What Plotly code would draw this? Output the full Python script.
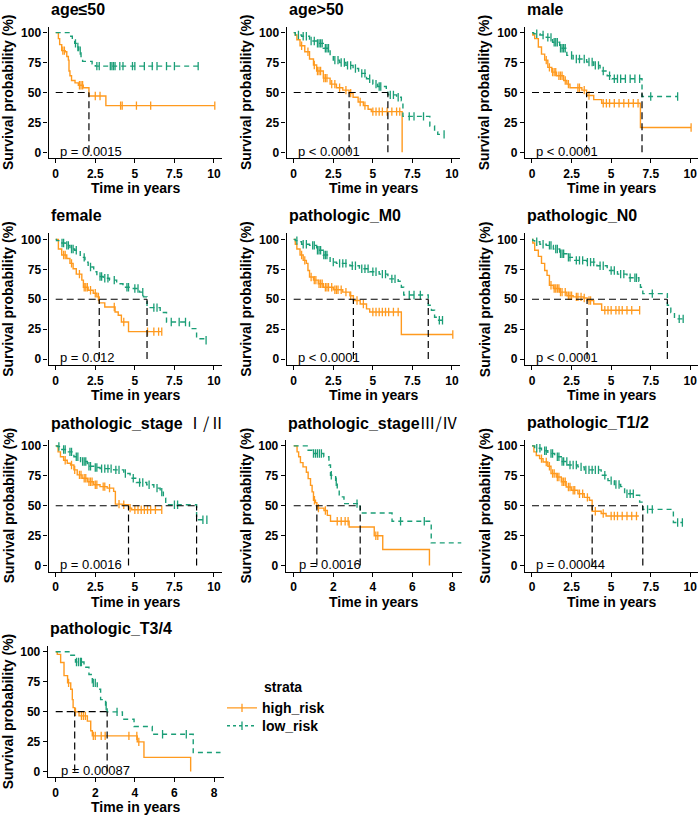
import plotly.graph_objects as go

FONT = "Liberation Sans, Arial, sans-serif"
HIGH_COLOR = "#FF9A1F"
LOW_COLOR = "#1B9E77"

panel_titles = ["age≤50", "age>50", "male", "female", "pathologic_M0", "pathologic_N0",
                "pathologic_stage <span style='font-family:Noto Sans CJK SC;font-weight:normal'>Ⅰ/Ⅱ</span>",
                "pathologic_stage<span style='font-family:Noto Sans CJK SC;font-weight:normal'>Ⅲ/Ⅳ</span>",
                "pathologic_T1/2", "pathologic_T3/4"]
p_values = ["p = 0.0015", "p < 0.0001", "p < 0.0001", "p = 0.012", "p < 0.0001",
            "p < 0.0001", "p = 0.0016", "p = 0.0016", "p = 0.00044", "p = 0.00087"]
x_tick_max = [10, 10, 10, 10, 10, 10, 10, 8, 10, 8]
y_ticks = [0, 25, 50, 75, 100]
strata_names = ["high_risk", "low_risk"]

# ---- panel 1: age<=50
p1_low_t = [0, 0.95, 1.05, 1.2, 1.35, 1.45, 1.6, 1.7, 2.3, 2.5, 9.0]
p1_low_s = [100, 97, 94, 91, 88, 85, 80, 76, 74, 72, 72]
p1_low_c = [1.25, 1.4, 1.55, 2.6, 2.75, 3.45, 3.55, 3.65, 3.75, 4.05, 4.25, 4.85, 5.0, 5.6, 6.1, 6.4, 7.0, 7.5, 9.0]
p1_high_t = [0, 0.17, 0.25, 0.38, 0.6, 0.7, 0.8, 0.84, 0.9, 1.0, 1.22, 1.43, 1.74, 2.1, 3.17, 10.05]
p1_high_s = [100, 95, 90, 85, 84, 80, 77, 68, 64, 60, 58, 56, 54, 47, 39, 39]
p1_high_c = [0.45, 0.55, 1.5, 1.6, 1.7, 2.5, 2.8, 4.1, 4.2, 5.1, 6.0, 10.05]

# ---- panel 2: age>50
p2_low_t = [0, 0.1, 0.5, 1.0, 1.45, 1.87, 2.3, 2.5, 2.9, 3.3, 3.75, 4.1, 4.6, 5.0, 5.3, 5.85, 5.95, 6.5, 6.8, 6.9, 8.6, 8.9, 9.1, 9.5]
p2_low_s = [100, 98, 97, 93, 91, 87, 81, 77, 75, 72.6, 70, 66, 61.5, 57, 55, 51.7, 48, 46, 43, 30, 22, 17, 15, 15]
p2_low_c = [0.3, 0.6, 0.8, 1.1, 1.3, 1.5, 1.6, 1.7, 1.8, 2.0, 2.1, 2.2, 2.6, 2.8, 3.0, 3.2, 3.4, 3.6, 3.9, 4.3, 4.5,
            4.8, 5.2, 5.4, 5.5, 6.1, 6.3, 6.6, 7.3, 7.6, 8.2, 9.5]
p2_high_t = [0, 0.1, 0.2, 0.4, 0.7, 1.0, 1.25, 1.45, 1.87, 2.3, 2.7, 3.1, 3.5, 3.75, 4.07, 4.4, 4.7, 4.9, 6.85]
p2_high_s = [100, 98, 94, 89, 84, 78, 73, 68, 62, 57, 54, 52, 49.5, 46, 42, 39, 36, 34, 0]
p2_high_c = [0.5, 0.9, 1.3, 1.5, 1.6, 1.7, 1.9, 2.0, 2.1, 2.4, 2.6, 2.9, 3.3, 3.6, 4.2, 4.5, 5.0, 5.2, 5.4, 5.6, 5.9,
             6.2, 6.5, 6.7]

# ---- panel 3: male
p3_low_t = [0, 0.1, 0.5, 0.9, 1.3, 1.75, 2.2, 2.6, 3.45, 3.9, 4.3, 4.75, 5.05, 6.95, 9.2]
p3_low_s = [100, 99, 98, 96, 92, 87, 81, 78, 75.4, 72.6, 68, 64, 61.5, 46.6, 46.6]
p3_low_c = [0.3, 0.7, 1.0, 1.2, 1.4, 1.5, 1.6, 1.8, 1.9, 2.0, 2.1, 2.5, 2.8, 3.0, 3.3, 3.6, 3.8, 4.0, 4.2, 4.5, 4.9,
            5.2, 5.4, 5.6, 5.9, 6.2, 6.5, 6.8, 7.5, 9.2]
p3_high_t = [0, 0.05, 0.17, 0.4, 0.6, 0.8, 1.0, 1.25, 1.55, 2.0, 2.2, 2.4, 3.15, 3.45, 3.9, 4.4, 6.85, 10.05]
p3_high_s = [100, 98, 95, 88, 82, 77, 71, 67, 64, 60, 57, 54, 52, 47.5, 44, 41, 20.7, 20.7]
p3_high_c = [0.9, 1.1, 1.3, 1.4, 1.5, 1.7, 1.8, 1.9, 2.1, 2.3, 2.9, 3.0, 3.3, 3.6, 4.5, 4.7, 4.9, 5.2, 5.5, 5.8, 6.1,
             6.4, 6.7, 10.05]

# ---- panel 4: female
p4_low_t = [0, 0.05, 0.27, 0.6, 0.9, 1.2, 1.55, 1.85, 2.05, 2.4, 2.6, 3.0, 3.4, 3.85, 4.25, 4.9, 5.3, 5.55, 5.77, 6.6, 7.0, 8.45, 8.9, 9.5]
p4_low_s = [100, 99, 97, 95, 92, 91, 85, 81, 77, 73, 69, 67.5, 66, 63, 60, 59, 56, 52, 43, 39, 31, 25.5, 17, 15.8]
p4_low_c = [0.4, 0.5, 0.7, 0.8, 1.0, 1.1, 1.3, 1.8, 2.2, 2.8, 2.9, 3.1, 3.3, 3.7, 4.5, 4.6, 5.0, 5.2, 5.5, 6.2, 6.4,
            7.3, 7.8, 8.2, 9.5]
p4_high_t = [0, 0.17, 0.38, 0.7, 0.9, 1.1, 1.3, 1.65, 1.75, 2.05, 2.37, 2.6, 2.75, 3.1, 3.75, 3.95, 4.15, 4.6, 6.7]
p4_high_s = [100, 92, 87, 84, 80, 75.5, 71, 66, 60, 57.5, 55, 52, 47, 43.6, 39.4, 36.7, 31, 23, 23]
p4_high_c = [0.5, 0.6, 1.0, 1.5, 1.8, 1.9, 2.0, 2.2, 2.5, 2.7, 3.7, 4.3, 5.8, 6.2, 6.5, 6.7]

# ---- panel 5: pathologic_M0
p5_low_t = [0, 0.1, 0.3, 0.5, 1.0, 1.45, 1.87, 2.3, 2.7, 3.55, 4.15, 4.8, 5.4, 5.95, 6.6, 6.8, 6.95, 8.5, 8.7, 8.9, 9.1, 9.4]
p5_low_s = [100, 99, 98, 96, 95, 91, 87, 81, 80, 78, 75.5, 73, 71, 67, 65, 60, 53.6, 45, 40.8, 35, 32.5, 32.5]
p5_low_c = [0.2, 0.6, 0.8, 1.2, 1.3, 1.5, 1.6, 1.7, 1.9, 2.0, 2.1, 2.5, 2.9, 3.1, 3.3, 3.7, 3.9, 4.3, 4.5, 4.7, 5.0,
            5.2, 5.6, 5.8, 6.2, 6.4, 7.3, 7.6, 8.0, 9.2, 9.4]
p5_high_t = [0, 0.1, 0.2, 0.4, 0.6, 0.8, 0.9, 1.0, 1.25, 1.55, 1.87, 2.5, 3.1, 3.55, 3.77, 4.2, 4.6, 4.8, 6.8, 10.05]
p5_high_s = [100, 96, 92, 87, 82.5, 80, 74, 68.6, 66, 63, 60, 58, 56, 53, 49, 46, 42, 39.4, 20.6, 20.6]
p5_high_c = [0.5, 0.7, 1.1, 1.3, 1.4, 1.6, 1.7, 1.8, 2.0, 2.1, 2.2, 2.4, 2.6, 2.7, 2.8, 3.0, 3.3, 3.6, 4.0, 4.4, 5.0,
             5.2, 5.4, 5.6, 5.8, 6.0, 6.3, 6.6, 10.05]

# ---- panel 6: pathologic_N0
p6_low_t = [0, 0.05, 0.17, 0.5, 0.9, 1.35, 1.75, 2.2, 2.6, 3.45, 4.1, 4.75, 5.4, 6.0, 6.75, 6.85, 7.0, 8.55, 8.77, 9.0, 9.55]
p6_low_s = [100, 99, 98, 96, 95, 92, 88, 85, 82.5, 81, 78, 74, 71, 68, 65, 60, 54.7, 45, 39, 33.6, 33.6]
p6_low_c = [0.3, 0.7, 1.1, 1.2, 1.5, 1.6, 1.8, 1.9, 2.0, 2.3, 2.4, 2.8, 3.0, 3.2, 3.5, 3.7, 3.9, 4.3, 4.5, 5.0, 5.2,
            5.6, 5.8, 6.2, 6.5, 6.6, 7.6, 9.3, 9.55]
p6_high_t = [0, 0.05, 0.17, 0.4, 0.6, 0.8, 0.95, 1.1, 1.35, 1.75, 2.2, 2.6, 3.25, 3.48, 3.9, 4.4, 6.8]
p6_high_s = [100, 97, 91, 85.8, 80, 74, 70, 61.7, 59, 56, 53, 52, 51, 49, 46, 40.8, 40.8]
p6_high_c = [1.2, 1.4, 1.5, 1.6, 1.7, 1.8, 1.9, 2.1, 2.3, 2.4, 2.5, 2.8, 2.9, 3.1, 3.3, 3.6, 3.7, 4.6, 4.8, 5.0, 5.3,
             5.5, 5.7, 6.0, 6.3, 6.8]

# ---- panel 7: pathologic_stage I/II
p7_low_t = [0, 0.1, 0.3, 0.73, 1.15, 1.57, 2.0, 2.4, 2.8, 3.66, 4.3, 4.7, 5.1, 5.75, 6.2, 6.6, 6.8, 6.95, 8.9, 9.55]
p7_low_s = [100, 99.5, 97, 95, 91, 87, 83, 82, 81, 80, 77, 73, 69.4, 67.5, 64.7, 61.4, 56.4, 50.8, 38.3, 38.3]
p7_low_c = [0.2, 0.5, 0.6, 0.9, 1.0, 1.3, 1.4, 1.7, 1.8, 1.9, 2.1, 2.2, 2.5, 2.6, 2.9, 3.1, 3.3, 3.5, 3.8, 4.0, 4.4,
            4.9, 5.3, 5.5, 5.9, 6.4, 6.7, 7.5, 7.7, 9.3, 9.55]
p7_high_t = [0, 0.15, 0.3, 0.5, 0.73, 0.94, 1.15, 1.36, 1.67, 2.0, 2.4, 2.8, 3.25, 3.66, 3.77, 4.2, 4.6, 4.8, 6.7]
p7_high_s = [100, 95, 91, 88, 85.5, 84, 80, 75.8, 73, 70, 67.5, 66, 64.7, 62, 51.4, 50.8, 48, 46.7, 46.7]
p7_high_c = [0.6, 1.0, 1.2, 1.5, 1.6, 1.8, 1.9, 2.1, 2.2, 2.3, 2.5, 2.6, 3.0, 3.1, 3.4, 4.0, 4.3, 4.7, 5.0, 5.2, 5.4,
             5.6, 5.8, 6.0, 6.3, 6.7]

# ---- panel 8: pathologic_stage III/IV
p8_low_t = [0, 0.68, 0.93, 1.52, 1.78, 1.86, 2.12, 2.2, 2.3, 2.54, 3.36, 4.97, 6.95, 8.47]
p8_low_s = [100, 96.4, 93.6, 91, 84, 75.5, 70, 64.3, 57.4, 51.8, 44, 37, 19, 19]
p8_low_c = [1.0, 1.1, 1.2, 1.3, 1.4, 1.9, 2.15, 3.2, 5.4, 6.6]
p8_high_t = [0, 0.17, 0.25, 0.34, 0.47, 0.64, 0.73, 0.85, 0.93, 1.0, 1.1, 1.17, 1.53, 1.7, 1.86, 2.8, 4.07, 4.5, 6.86]
p8_high_s = [100, 95, 91, 86, 82.5, 78, 72.7, 67, 61.6, 54.6, 52.6, 48, 46, 42, 37, 32.3, 25, 13.4, 0]
p8_high_c = [1.05, 1.25, 1.6, 2.2, 2.4, 2.6, 2.75, 4.15, 4.25]

# ---- panel 9: pathologic_T1/2
p9_low_t = [0, 0.17, 0.6, 1.0, 1.43, 1.85, 2.27, 2.9, 3.3, 4.37, 4.8, 5.2, 5.6, 5.85, 6.6, 6.8, 7.0, 8.93, 9.5]
p9_low_s = [100, 98, 96, 93.6, 91, 87, 84, 82.5, 80, 75.5, 71, 67.7, 66, 60, 58.8, 53, 47, 36, 36]
p9_low_c = [0.3, 0.5, 0.8, 0.9, 1.2, 1.3, 1.6, 1.7, 1.9, 2.0, 2.2, 2.4, 2.6, 2.8, 3.1, 3.4, 3.6, 3.8, 4.0, 4.2, 4.6,
            5.0, 5.3, 5.5, 6.0, 6.2, 6.4, 7.3, 7.6, 9.2, 9.5]
p9_high_t = [0, 0.12, 0.27, 0.48, 0.7, 1.0, 1.2, 1.53, 1.85, 2.16, 2.48, 2.9, 3.3, 3.63, 3.8, 4.37, 4.68, 6.75]
p9_high_s = [100, 95, 92, 89.4, 86.6, 83, 77, 74, 70, 65.7, 63, 60, 57, 54.6, 45.4, 43.5, 41.5, 41.5]
p9_high_c = [0.6, 0.9, 1.1, 1.3, 1.4, 1.6, 1.7, 1.9, 2.0, 2.1, 2.3, 2.4, 2.6, 2.7, 3.0, 3.2, 3.5, 4.0, 4.5, 5.0, 5.2,
             5.4, 5.7, 6.0, 6.3, 6.6]

# ---- panel 10: pathologic_T3/4
p10_low_t = [0, 0.67, 1.0, 1.43, 1.68, 1.85, 2.1, 2.27, 2.52, 2.6, 3.37, 3.96, 4.88, 6.95, 8.33]
p10_low_s = [100, 97, 91.4, 87, 81, 74, 68.6, 60, 54.7, 49.7, 43.6, 37.5, 31, 15.8, 15.8]
p10_low_c = [1.05, 1.15, 1.25, 1.3, 1.9, 2.0, 2.55, 3.1, 5.4, 6.6]
p10_high_t = [0, 0.08, 0.25, 0.42, 0.6, 0.76, 0.84, 0.88, 0.96, 1.18, 1.6, 1.77, 1.85, 4.12, 4.46, 6.82]
p10_high_s = [100, 97.8, 91, 80, 74, 68.6, 60, 53.3, 49.7, 46.4, 42, 34, 29.7, 24.7, 11.7, 0]
p10_high_c = [0.65, 1.0, 1.3, 1.4, 1.5, 1.9, 2.0, 2.3, 2.5, 3.7, 4.1, 4.2]

high_curves = [(p1_high_t, p1_high_s, p1_high_c), (p2_high_t, p2_high_s, p2_high_c), (p3_high_t, p3_high_s, p3_high_c),
               (p4_high_t, p4_high_s, p4_high_c), (p5_high_t, p5_high_s, p5_high_c), (p6_high_t, p6_high_s, p6_high_c),
               (p7_high_t, p7_high_s, p7_high_c), (p8_high_t, p8_high_s, p8_high_c), (p9_high_t, p9_high_s, p9_high_c),
               (p10_high_t, p10_high_s, p10_high_c)]
low_curves = [(p1_low_t, p1_low_s, p1_low_c), (p2_low_t, p2_low_s, p2_low_c), (p3_low_t, p3_low_s, p3_low_c),
              (p4_low_t, p4_low_s, p4_low_c), (p5_low_t, p5_low_s, p5_low_c), (p6_low_t, p6_low_s, p6_low_c),
              (p7_low_t, p7_low_s, p7_low_c), (p8_low_t, p8_low_s, p8_low_c), (p9_low_t, p9_low_s, p9_low_c),
              (p10_low_t, p10_low_s, p10_low_c)]


def step_value(t, s, c):
    v = s[0]
    for ti, si in zip(t, s):
        if ti <= c:
            v = si
    return v


def median_time(t, s):
    for ti, si in zip(t, s):
        if si <= 50:
            return ti
    return None


# ---------------- layout geometry (pixels) ----------------
W, H = 700, 817
col_x0 = [55.7, 293.7, 532.0]      # pixel of time 0 per column
row_y0 = [151.7, 359.0, 566.0, 772.3]  # pixel of survival 0 per row
XSPAN_PX = 158.3                   # pixel span from 0 to max tick
YSCALE = 1.2                       # pixel per % survival

fig = go.Figure()
annotations = []
axis_font = dict(family=FONT, size=12, color="black", weight="bold")

for i in range(10):
    r, c = divmod(i, 3)
    n = i + 1
    xa = "x" if n == 1 else f"x{n}"
    ya = "y" if n == 1 else f"y{n}"
    xmax = x_tick_max[i]
    step = 2.5 if xmax == 10 else 2
    xr = [-0.45, 10.5] if xmax == 10 else [-0.4, 8.5]
    xs = XSPAN_PX / xmax
    x0 = col_x0[c]
    left_px = x0 + xr[0] * xs
    right_px = x0 + xr[1] * xs
    y0 = row_y0[r]
    bot_px = y0 + 5 * YSCALE
    top_px = y0 - 105 * YSCALE

    xkey = "xaxis" if n == 1 else f"xaxis{n}"
    ykey = "yaxis" if n == 1 else f"yaxis{n}"
    tickvals = [k * step for k in range(int(round(xmax / step)) + 1)]
    ticktext = [("%g" % v) for v in tickvals]
    fig.layout[xkey] = dict(domain=[left_px / W, min(right_px / W, 1.0)], range=xr, anchor=ya,
                            showline=True, linecolor="black", linewidth=1.2, ticks="outside",
                            ticklen=4, tickwidth=1.2, tickcolor="black", showgrid=False, zeroline=False,
                            tickvals=tickvals, ticktext=ticktext, tickfont=axis_font,
                            ticklabeloverflow="allow")
    fig.layout[ykey] = dict(domain=[1 - bot_px / H, 1 - top_px / H], range=[-5, 105], anchor=xa,
                            showline=True, linecolor="black", linewidth=1.2, ticks="outside",
                            ticklen=4, tickwidth=1.2, tickcolor="black", showgrid=False, zeroline=False,
                            tickvals=y_ticks, tickfont=axis_font)

    medians = []
    for (t, s, cens), color, dash, name in [(high_curves[i], HIGH_COLOR, "solid", strata_names[0]),
                                            (low_curves[i], LOW_COLOR, "5px,4px", strata_names[1])]:
        fig.add_trace(go.Scatter(x=t, y=s, mode="lines", line=dict(color=color, width=1.4, dash=dash, shape="hv"),
                                 xaxis=xa, yaxis=ya, showlegend=False, hoverinfo="skip"))
        fig.add_trace(go.Scatter(x=cens, y=[step_value(t, s, cc) for cc in cens], mode="markers",
                                 marker=dict(symbol="line-ns", size=6, line=dict(width=1.3, color=color)),
                                 xaxis=xa, yaxis=ya, showlegend=False, hoverinfo="skip"))
        m = median_time(t, s)
        if m is not None:
            medians.append(m)
    if medians:
        fig.add_trace(go.Scatter(x=[0, max(medians)], y=[50, 50], mode="lines",
                                 line=dict(color="black", width=1.2, dash="7px,4px"),
                                 xaxis=xa, yaxis=ya, showlegend=False, hoverinfo="skip"))
        for m in medians:
            fig.add_trace(go.Scatter(x=[m, m], y=[0, 50], mode="lines",
                                     line=dict(color="black", width=1.2, dash="7px,4px"),
                                     xaxis=xa, yaxis=ya, showlegend=False, hoverinfo="skip"))

    # texts
    annotations.append(dict(text=panel_titles[i], xref="paper", yref="paper", x=left_px / W,
                            y=1 - (top_px - 17.5) / H, xanchor="left", yanchor="middle", showarrow=False,
                            font=dict(family=FONT, size=16, color="black", weight="bold")))
    annotations.append(dict(text="Survival probability (%)", xref="paper", yref="paper", x=(left_px - 40) / W,
                            y=1 - (y0 - 50 * YSCALE) / H, xanchor="center", yanchor="middle", textangle=-90,
                            showarrow=False, font=dict(family=FONT, size=14, color="black", weight="bold")))
    annotations.append(dict(text="Time in years", xref="paper", yref="paper", x=(left_px + right_px) / 2 / W,
                            y=1 - (y0 + 36) / H, xanchor="center", yanchor="middle", showarrow=False,
                            font=dict(family=FONT, size=14, color="black", weight="bold")))
    annotations.append(dict(text=p_values[i], xref=xa, yref=ya, x=0.15, y=1, xanchor="left", yanchor="middle",
                            showarrow=False, font=dict(family=FONT, size=13, color="black")))

# legend entries (one legend per entry for exact placement)
for name, color, dash, lg in [(strata_names[0], HIGH_COLOR, "solid", "legend"),
                              (strata_names[1], LOW_COLOR, "3px,3px", "legend2")]:
    fig.add_trace(go.Scatter(x=[None], y=[None], mode="lines+markers", name=name, legend=lg,
                             line=dict(color=color, width=1.4, dash=dash),
                             marker=dict(symbol="line-ns", size=6, line=dict(width=1.3, color=color)),
                             xaxis="x", yaxis="y", showlegend=True))

annotations.append(dict(text="strata", xref="paper", yref="paper", x=262 / W, y=1 - 688 / H,
                        xanchor="left", yanchor="middle", showarrow=False,
                        font=dict(family=FONT, size=14, color="black", weight="bold")))

legend_common = dict(xanchor="left", yanchor="middle", itemwidth=30,
                     font=dict(family=FONT, size=14, color="black", weight="bold"),
                     bgcolor="rgba(0,0,0,0)", tracegroupgap=0)
fig.update_layout(width=W, height=H, margin=dict(l=0, r=0, t=0, b=0), plot_bgcolor="white",
                  paper_bgcolor="white", annotations=annotations,
                  legend=dict(x=222 / W, y=1 - 709 / H, **legend_common),
                  legend2=dict(x=222 / W, y=1 - 727 / H, **legend_common))

fig.write_html("out.html", config={"displayModeBar": False},
               post_script="document.body.style.margin='0px';document.body.style.padding='0px';")
